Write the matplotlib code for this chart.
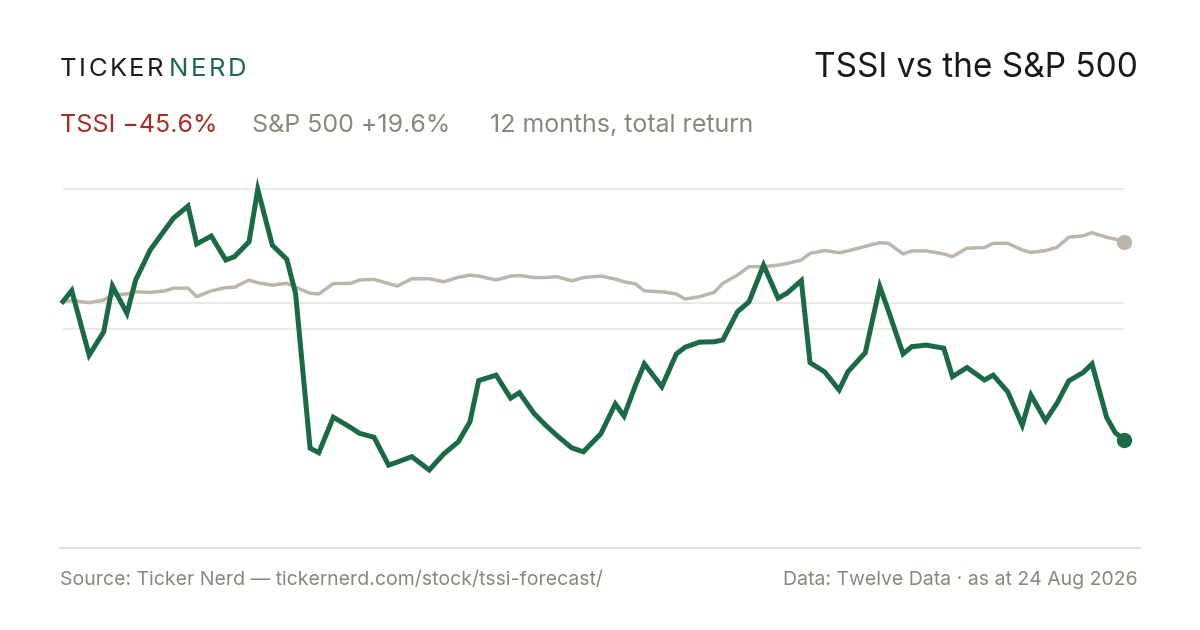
import matplotlib
matplotlib.use("Agg")
import matplotlib.pyplot as plt
import pandas as pd

# dias desde el 24 ago 2025 y rendimiento total acumulado (%)
start_date = "2025-08-24"
days = [0, 3, 9, 14, 17, 22, 25, 30, 35, 38, 43, 46, 51, 56, 59, 64, 67, 72, 77, 80,
        85, 88, 93, 99, 102, 107, 112, 115, 120, 126, 131, 136, 140, 143, 149, 154, 157,
        162, 166, 170, 175, 179, 185, 190, 193, 197, 200, 206, 211, 214, 219, 224, 227,
        232, 236, 241, 246, 249, 254, 257, 262, 267, 270, 276, 281, 284, 289, 292, 297,
        303, 306, 311, 317, 320, 325, 330, 333, 338, 342, 346, 351, 354, 359, 362, 365]
tssi = [0.0, 3.6, -17.7, -10.0, 5.1, -3.9, 7.1, 17.0, 23.6, 27.5, 31.5, 19.0, 21.6, 13.7,
        14.8, 19.7, 37.0, 18.6, 13.9, 2.7, -48.4, -49.9, -38.2, -41.6, -43.5, -44.8, -54.0,
        -53.0, -51.2, -55.6, -50.3, -46.3, -39.7, -26.1, -24.3, -31.9, -30.1, -36.9, -40.8,
        -44.3, -48.3, -49.6, -43.7, -33.8, -37.8, -27.5, -20.6, -28.1, -17.3, -15.1, -13.4,
        -13.3, -12.7, -3.4, -0.1, 12.0, 1.1, 2.7, 6.9, -20.2, -23.2, -29.2, -23.2, -16.9,
        4.9, -3.2, -17.3, -14.9, -14.4, -15.4, -24.8, -21.8, -25.9, -24.3, -29.8, -40.8,
        -30.9, -39.3, -33.5, -26.2, -23.4, -20.6, -38.2, -43.3, -45.6]
spx = [0.0, 0.3, -0.4, 0.5, 2.1, 2.5, 3.2, 3.0, 3.5, 4.4, 4.4, 1.6, 3.5, 4.6, 4.7, 7.1,
       6.2, 5.4, 6.0, 4.7, 2.7, 2.5, 5.9, 6.0, 7.1, 7.3, 5.9, 5.1, 7.5, 7.5, 6.5, 8.0, 8.7,
       8.4, 7.1, 8.4, 8.6, 7.9, 7.9, 8.2, 6.8, 7.9, 8.4, 7.4, 6.5, 5.8, 3.5, 3.2, 2.5, 0.8,
       1.6, 3.0, 6.0, 8.7, 11.5, 11.5, 12.0, 12.5, 13.7, 15.9, 16.8, 16.1, 16.7, 18.2, 19.4,
       19.2, 15.7, 16.7, 16.7, 15.7, 14.8, 17.6, 17.8, 19.2, 19.2, 17.0, 16.2, 16.8, 17.9,
       21.2, 21.7, 22.7, 21.2, 20.6, 19.6]
grid_levels = [37.0, -0.4, -9.2]

tssi_label = "TSSI \u221245.6%"
spx_label = "S&P 500 +19.6%"
period_label = "12 months, total return"

GREEN = "#1a6b45"
SAND = "#bdb6ab"
RED = "#ad2b24"
MUTED = "#8c877b"

plt.rcParams["font.family"] = ["Inter", "DejaVu Sans"]

dates = pd.Timestamp(start_date) + pd.to_timedelta(days, unit="D")

W, H = 1200, 630
fig = plt.figure(figsize=(12, 6.3), dpi=100)
fig.patch.set_facecolor("white")

ax = fig.add_axes([63 / W, (H - 548) / H, (1124 - 63) / W, (548 - 170) / H])
ax.set_xlim(dates[0], dates[-1])
ax.set_ylim(-81.35, 43.4)
for lvl in grid_levels:
    ax.axhline(lvl, color="#ece9e3", lw=1.4, zorder=1)

ax.plot(dates, spx, color=SAND, lw=2.5, solid_joinstyle="round", zorder=2, clip_on=False)
ax.plot(dates, tssi, color=GREEN, lw=3.6, solid_joinstyle="miter", zorder=3, clip_on=False)
ax.scatter([dates[-1]], [spx[-1]], s=100, color=SAND, zorder=4, clip_on=False)
ax.scatter([dates[-1]], [tssi[-1]], s=100, color=GREEN, zorder=4, clip_on=False)
ax.axis("off")

# linea separadora del pie
fig.add_artist(plt.Line2D([60 / W, 1140 / W], [(H - 548) / H] * 2, color="#dcd9d0", lw=1.2))


def px(x, y):
    return x / W, 1 - y / H


def spaced(x, y, s, color, size, gap):
    '''Escribe el texto letra por letra con espacio extra entre ellas.'''
    r = fig.canvas.get_renderer()
    for ch in s:
        t = fig.text(*px(x, y), ch, color=color, fontsize=size, va="center", ha="left")
        x += t.get_window_extent(r).width + gap
    return x


spaced(60, 70, "TICKER", "#1c1c1c", 18.5, 2.4)
spaced(169, 70, "NERD", GREEN, 18.5, 2.4)
fig.text(*px(1138, 68), "TSSI vs the S&P 500", color="#1a1a1a", fontsize=24,
         va="center", ha="right")

fig.text(*px(60, 125), tssi_label, color=RED, fontsize=18, va="center")
fig.text(*px(252, 125), spx_label, color=MUTED, fontsize=18, va="center")
fig.text(*px(490, 125), period_label, color=MUTED, fontsize=18, va="center")

fig.text(*px(60, 580), "Source: Ticker Nerd \u2014 tickernerd.com/stock/tssi-forecast/",
         color=MUTED, fontsize=14, va="center")
fig.text(*px(1138, 580), "Data: Twelve Data \u00b7 as at 24 Aug 2026", color=MUTED,
         fontsize=14, va="center", ha="right")

fig.savefig("out.png", dpi=100, facecolor="white")
